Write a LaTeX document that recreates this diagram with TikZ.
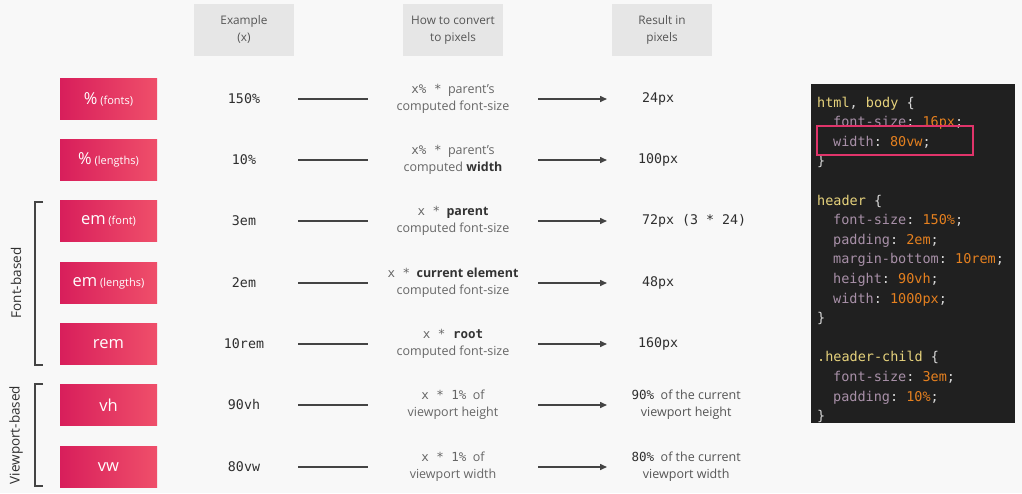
\documentclass[tikz,border=0pt]{standalone}
\usepackage{fontspec}
\setmainfont{Open Sans}
\setmonofont{DejaVu Sans Mono}
\usetikzlibrary{arrows.meta}
\definecolor{bgcol}{HTML}{F8F8F8}
\definecolor{pinkL}{HTML}{D81E5B}
\definecolor{pinkR}{HTML}{EF4F6A}
\definecolor{hdrgray}{HTML}{E6E6E6}
\definecolor{hdrtext}{HTML}{555555}
\definecolor{extext}{HTML}{2E2E2E}
\definecolor{convtext}{HTML}{666666}
\definecolor{darktext}{HTML}{333333}
\definecolor{linecol}{HTML}{444444}
\definecolor{panel}{HTML}{202020}
\definecolor{csel}{HTML}{E6D27C}
\definecolor{cprop}{HTML}{A890A8}
\definecolor{cval}{HTML}{E5801F}
\definecolor{cpun}{HTML}{D8D8D8}
\definecolor{hilite}{HTML}{E0346A}
\newcommand\dk[1]{\textcolor{darktext}{\textbf{#1}}}
\newcommand\cl[2]{\textcolor{cprop}{#1}\textcolor{cpun}{:}\ \textcolor{cval}{#2}\textcolor{cpun}{;}}
\newcommand\sm[1]{{\fontsize{11}{13}\selectfont\ #1}}
\begin{document}
\begin{tikzpicture}[x=1pt,y=-1pt,
  unitbox/.style={rectangle, minimum width=97pt, minimum height=41pt, inner sep=0pt, left color=pinkL, right color=pinkR, draw=none, text=white, font=\fontsize{16.5}{20}\selectfont},
  hdrbox/.style={fill=hdrgray, minimum width=100pt, minimum height=52pt, inner sep=0pt, align=center, text=hdrtext, font=\fontsize{11.8}{17}\selectfont},
  exbox/.style={minimum width=108pt, inner sep=0pt, text=extext, font=\ttfamily\fontsize{13.3}{16}\selectfont},
  convbox/.style={minimum width=170pt, inner sep=0pt, align=center, text=convtext, font=\fontsize{12.5}{17}\selectfont},
  resbox/.style={anchor=west, minimum width=102pt, inner sep=0pt, text=extext, font=\ttfamily\fontsize{13.3}{16}\selectfont},
  restwo/.style={anchor=west, minimum width=158pt, inner sep=0pt, align=center, text=hdrtext, font=\fontsize{12.5}{17}\selectfont},
  plainline/.style={draw=linecol, line width=1.5pt},
  arrowline/.style={plainline, -{Triangle[length=7pt,width=6pt]}},
  bracket/.style={draw=linecol, line width=1.5pt},
  sidelabel/.style={rotate=90, inner sep=0pt, text=extext, font=\fontsize{13.5}{16}\selectfont},
  codeline/.style={anchor=base west, inner sep=0pt, font=\ttfamily\fontsize{13.5}{16}\selectfont}
]
\fill[bgcol] (0,0) rectangle (1022,493);
\useasboundingbox (0,0) rectangle (1022,493);

% headers
\node[hdrbox] (h1) at (244,30) {\raisebox{-1.5pt}{\begin{tabular}{@{}c@{}}Example\\(x)\end{tabular}}};
\node[hdrbox] (h2) at (453,30) {\raisebox{-1.5pt}{\begin{tabular}{@{}c@{}}How to convert\\to pixels\end{tabular}}};
\node[hdrbox] (h3) at (662,30) {\raisebox{-1.5pt}{\begin{tabular}{@{}c@{}}Result in\\pixels\end{tabular}}};

% units
\node[unitbox] (u1) at (108.5,99) {\%\sm{(fonts)}};
\node[unitbox] (u2) at (108.5,160) {\%\sm{(lengths)}};
\node[unitbox] (u3) at (108.5,221) {em\sm{(font)}};
\node[unitbox] (u4) at (108.5,283) {em\sm{(lengths)}};
\node[unitbox] (u5) at (108.5,344) {rem};
\node[unitbox] (u6) at (108.5,405) {vh};
\node[unitbox] (u7) at (108.5,467) {vw};

% examples
\node[exbox] (e1) at (244,99) {150\%};
\node[exbox] (e2) at (244,160) {10\%};
\node[exbox] (e3) at (244,221) {3em};
\node[exbox] (e4) at (244,283) {2em};
\node[exbox] (e5) at (244,344) {10rem};
\node[exbox] (e6) at (244,405) {90vh};
\node[exbox] (e7) at (244,467) {80vw};

% conversions
\node[convbox] (c1) at (453,99) {\texttt{x\%\ *}\ \ parent’s\\computed font-size};
\node[convbox] (c2) at (453,160) {\texttt{x\%\ *}\ \ parent’s\\computed \dk{width}};
\node[convbox] (c3) at (453,221) {\texttt{x\ *}\ \ \dk{parent}\\computed font-size};
\node[convbox] (c4) at (453,283) {\texttt{x\ *}\ \ \dk{current element}\\computed font-size};
\node[convbox] (c5) at (453,344) {\texttt{x\ *\ \textcolor{darktext}{\textbf{root}}}\\computed font-size};
\node[convbox] (c6) at (453,405) {\texttt{x\ *\ 1\%}\ \ of\\viewport height};
\node[convbox] (c7) at (453,467) {\texttt{x\ *\ 1\%}\ \ of\\viewport width};

% results
\node[resbox] (r1) at (607,99) {24px};
\node[resbox] (r2) at (607,160) {100px};
\node[resbox, minimum width=174pt] (r3) at (607,221) {72px (3 * 24)};
\node[resbox] (r4) at (607,283) {48px};
\node[resbox] (r5) at (607,344) {160px};
\node[restwo] (r6) at (607,405) {\textcolor{extext}{\texttt{90\%}}\ \ of the current\\viewport height};
\node[restwo] (r7) at (607,467) {\textcolor{extext}{\texttt{80\%}}\ \ of the current\\viewport width};

% connectors
\foreach \i in {1,...,7}{
  \draw[plainline] (e\i.east) -- (c\i.west);
  \draw[arrowline] (c\i.east) -- (r\i.west);
}

% brackets
\draw[bracket] (43,202) -- (35,202) -- (35,365) -- (43,365);
\draw[bracket] (43,384) -- (35,384) -- (35,486) -- (43,486);
\node[sidelabel] (lf) at (16,283) {Font-based};
\node[sidelabel] (lv) at (16,435) {Viewport-based};

% code panel
\fill[panel] (811,84) rectangle (1015,423);
\node[codeline] (k0) at (817,107) {\textcolor{csel}{html}\textcolor{cpun}{,}\ \textcolor{csel}{body}\ \textcolor{cpun}{\{}};
\node[codeline] (k1) at (833,126.6) {\cl{font-size}{16px}};
\node[codeline] (k2) at (833,146.2) {\cl{width}{80vw}};
\node[codeline] (k3) at (817,165.8) {\textcolor{cpun}{\}}};
\node[codeline] (k5) at (817,205) {\textcolor{csel}{header}\ \textcolor{cpun}{\{}};
\node[codeline] (k6) at (833,224.6) {\cl{font-size}{150\%}};
\node[codeline] (k7) at (833,244.2) {\cl{padding}{2em}};
\node[codeline] (k8) at (833,263.8) {\cl{margin-bottom}{10rem}};
\node[codeline] (k9) at (833,283.4) {\cl{height}{90vh}};
\node[codeline] (k10) at (833,303) {\cl{width}{1000px}};
\node[codeline] (k11) at (817,322.6) {\textcolor{cpun}{\}}};
\node[codeline] (k13) at (817,361.8) {\textcolor{csel}{.header-child}\ \textcolor{cpun}{\{}};
\node[codeline] (k14) at (833,381.4) {\cl{font-size}{3em}};
\node[codeline] (k15) at (833,401) {\cl{padding}{10\%}};
\node[codeline] (k16) at (817,420.6) {\textcolor{cpun}{\}}};
\draw[hilite, line width=2pt] (817,126) rectangle (973,155);
\end{tikzpicture}
\end{document}
